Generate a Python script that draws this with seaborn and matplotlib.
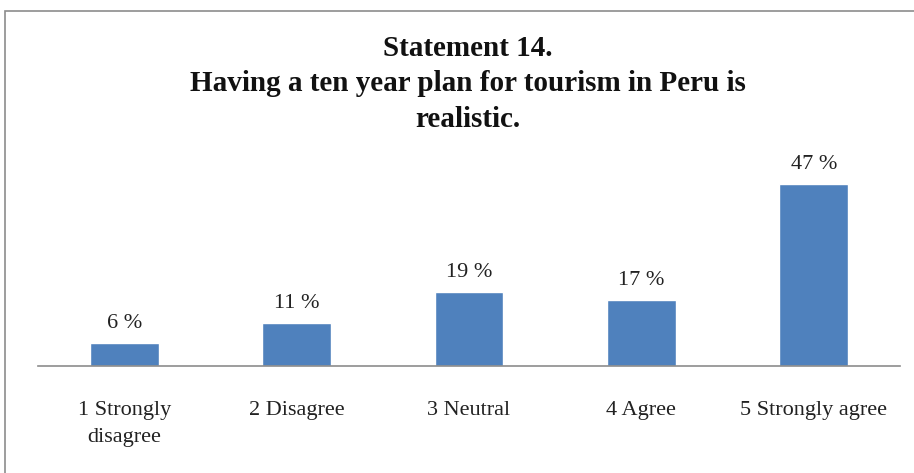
import matplotlib
matplotlib.use("Agg")
import matplotlib.pyplot as plt
import seaborn as sns
import pandas as pd
from matplotlib.patches import Rectangle

categories = ["1 Strongly\ndisagree", "2 Disagree", "3 Neutral", "4 Agree", "5 Strongly agree"]
values = [6, 11, 19, 17, 47]
value_labels = ["6 %", "11 %", "19 %", "17 %", "47 %"]

df = pd.DataFrame({"category": categories, "value": values})

sns.set_theme(style="white")
plt.rcParams["font.family"] = ["Liberation Serif", "DejaVu Serif"]

W, H = 914, 473
fig = plt.figure(figsize=(W / 100, H / 100), dpi=100)
ax = fig.add_axes([38 / W, (H - 366) / H, 862 / W, (366 - 172.5) / H])

sns.barplot(data=df, x="category", y="value", color="#4f81bd", width=0.4,
            saturation=1, ax=ax)
ax.set_ylim(0, 50)
ax.set_xlim(-0.5, 4.5)

for i, (v, lab) in enumerate(zip(values, value_labels)):
    ax.text(i, v + 2.6, lab, ha="center", va="bottom", fontsize=16, color="#222222")

ax.set_xlabel("")
ax.set_ylabel("")
ax.set_yticks([])
for s in ["top", "right", "left"]:
    ax.spines[s].set_visible(False)
ax.spines["bottom"].set_color("#8c8c8c")
ax.spines["bottom"].set_linewidth(1.2)
ax.tick_params(axis="x", length=0, pad=25, labelsize=16, colors="#222222")
for t in ax.get_xticklabels():
    t.set_va("top")
    t.set_linespacing(1.6)

fig.text(468 / W, (H - 35) / H,
         "Statement 14.\nHaving a ten year plan for tourism in Peru is\nrealistic.",
         ha="center", va="top", fontsize=21, fontweight="bold",
         linespacing=1.4, color="#111111")

fig.patches.append(Rectangle((5 / W, -0.1), 2, (H - 11) / H + 0.1,
                             transform=fig.transFigure, fill=False,
                             edgecolor="#8c8c8c", linewidth=1.2))

fig.savefig("out.png", dpi=100)
